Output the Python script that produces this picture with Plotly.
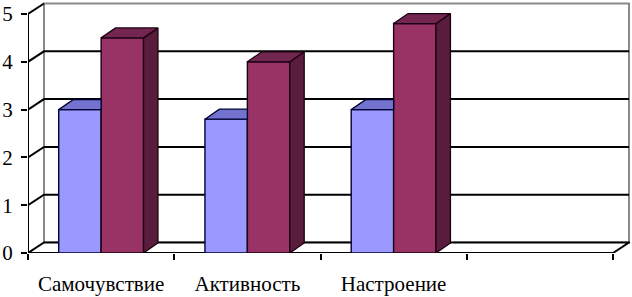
import plotly.graph_objects as go

# ---- data ----
categories = ["Самочувствие", "Активность", "Настроение", ""]
series1 = [3.0, 2.8, 3.0]
series2 = [4.5, 4.0, 4.8]
y_ticks = [0, 1, 2, 3, 4, 5]

# ---- style / geometry constants ----
W, H = 632, 297
PX_X = 146.25          # px per category unit
PX_Y = 47.8            # px per value unit
LEFT_PX, RIGHT_PX, TOP_PX, BOT_PX = 28, 630, 2, 253
DX = 16 / PX_X         # wall depth (x)
DY = 10.5 / PX_Y       # wall depth (y)
BDX, BDY = 0.9 * DX, 0.95 * DY   # bar depth
BAR_W = 0.29
XMIN = -0.5
XMAX = XMIN + (RIGHT_PX - LEFT_PX) / PX_X
YMAX = (BOT_PX - TOP_PX) / PX_Y
NCAT = len(categories)
XFRONT_R = XMIN + NCAT
XBACK_R = XFRONT_R + DX

BLUE, BLUE_TOP = "#9999FF", "#7373CF"
RED, RED_TOP, RED_SIDE = "#993366", "#722650", "#5A1C3C"
FONT = "Liberation Serif"

fig = go.Figure()
xs = list(range(len(series1)))

# front faces as real bars
fig.add_trace(go.Bar(x=xs, y=series1, marker=dict(color=BLUE, line=dict(color="#000033", width=1.4)),
                     hoverinfo="skip", showlegend=False))
fig.add_trace(go.Bar(x=xs, y=series2, marker=dict(color=RED, line=dict(color="#1a0010", width=1.4)),
                     hoverinfo="skip", showlegend=False))

def poly(points):
    xx, yy = [], []
    for pts in points:
        for p in pts:
            xx.append(p[0]); yy.append(p[1])
        xx.append(pts[0][0]); yy.append(pts[0][1])
        xx.append(None); yy.append(None)
    return xx, yy

# blue top faces (right part hidden behind taller red bar)
tops1 = []
for i, v in enumerate(series1):
    x0, x1 = i - BAR_W, i
    tops1.append([(x0, v), (x1, v), (x1, v + BDY), (x0 + BDX, v + BDY)])
px, py = poly(tops1)
fig.add_trace(go.Scatter(x=px, y=py, mode="lines", fill="toself", fillcolor=BLUE_TOP,
                         line=dict(color="#000033", width=1.3), hoverinfo="skip", showlegend=False))

# red side and top faces
sides2, tops2 = [], []
for i, v in enumerate(series2):
    x0, x1 = i, i + BAR_W
    sides2.append([(x1, 0), (x1, v), (x1 + BDX, v + BDY), (x1 + BDX, BDY)])
    tops2.append([(x0, v), (x1, v), (x1 + BDX, v + BDY), (x0 + BDX, v + BDY)])
px, py = poly(sides2)
fig.add_trace(go.Scatter(x=px, y=py, mode="lines", fill="toself", fillcolor=RED_SIDE,
                         line=dict(color="#1a0010", width=1.3), hoverinfo="skip", showlegend=False))
px, py = poly(tops2)
fig.add_trace(go.Scatter(x=px, y=py, mode="lines", fill="toself", fillcolor=RED_TOP,
                         line=dict(color="#1a0010", width=1.3), hoverinfo="skip", showlegend=False))

# ---- walls, floor, gridlines (shapes below traces) ----
shapes = []
top = max(y_ticks)
# back wall
shapes.append(dict(type="path", xref="x", yref="y", layer="below",
                   path=f"M{XMIN+DX},{DY} L{XMIN+DX},{top+DY} L{XBACK_R},{top+DY} L{XBACK_R},{DY} Z",
                   fillcolor="white", line=dict(color="#8a8a8a", width=2)))
# gridlines on left wall + back wall
for v in y_ticks[1:-1]:
    shapes.append(dict(type="path", xref="x", yref="y", layer="below",
                       path=f"M{XMIN},{v} L{XMIN+DX},{v+DY} L{XBACK_R},{v+DY}",
                       line=dict(color="black", width=2)))
shapes.append(dict(type="path", xref="x", yref="y", layer="below",
                   path=f"M{XMIN},{top} L{XMIN+DX},{top+DY}", line=dict(color="black", width=2)))
# floor
shapes.append(dict(type="path", xref="x", yref="y", layer="below",
                   path=f"M{XMIN},0 L{XFRONT_R},0 L{XBACK_R},{DY} L{XMIN+DX},{DY} Z",
                   fillcolor="white", line=dict(color="black", width=2)))
# front value axis line
shapes.append(dict(type="line", xref="x", yref="y", layer="below",
                   x0=XMIN, y0=0, x1=XMIN, y1=top, line=dict(color="black", width=2)))

fig.update_layout(
    width=W, height=H, margin=dict(l=0, r=0, t=0, b=0),
    paper_bgcolor="white", plot_bgcolor="white",
    barmode="group", bargap=1 - 2 * BAR_W, bargroupgap=0,
    shapes=shapes, showlegend=False,
    font=dict(family=FONT, size=21, color="black"),
    xaxis=dict(domain=[LEFT_PX / W, RIGHT_PX / W], range=[XMIN, XMAX],
               tickmode="array", tickvals=list(range(NCAT)), ticktext=categories,
               ticks="", showgrid=False, zeroline=False, showline=False,
               ticklabelstandoff=16, automargin=False,
               minor=dict(tickmode="array", tickvals=[XMIN + k for k in range(NCAT + 1)],
                          ticks="outside", ticklen=6, tickwidth=2, tickcolor="black", showgrid=False)),
    yaxis=dict(domain=[1 - BOT_PX / H, 1 - TOP_PX / H], range=[0, YMAX],
               tickmode="array", tickvals=y_ticks, ticks="outside", ticklen=6, tickwidth=2,
               tickcolor="black", showgrid=False, zeroline=False, showline=False,
               ticklabelstandoff=4, automargin=False),
)

fig.write_html("out.html", config={"displayModeBar": False, "staticPlot": True},
               post_script="document.body.style.margin='0';document.body.style.padding='0';")
